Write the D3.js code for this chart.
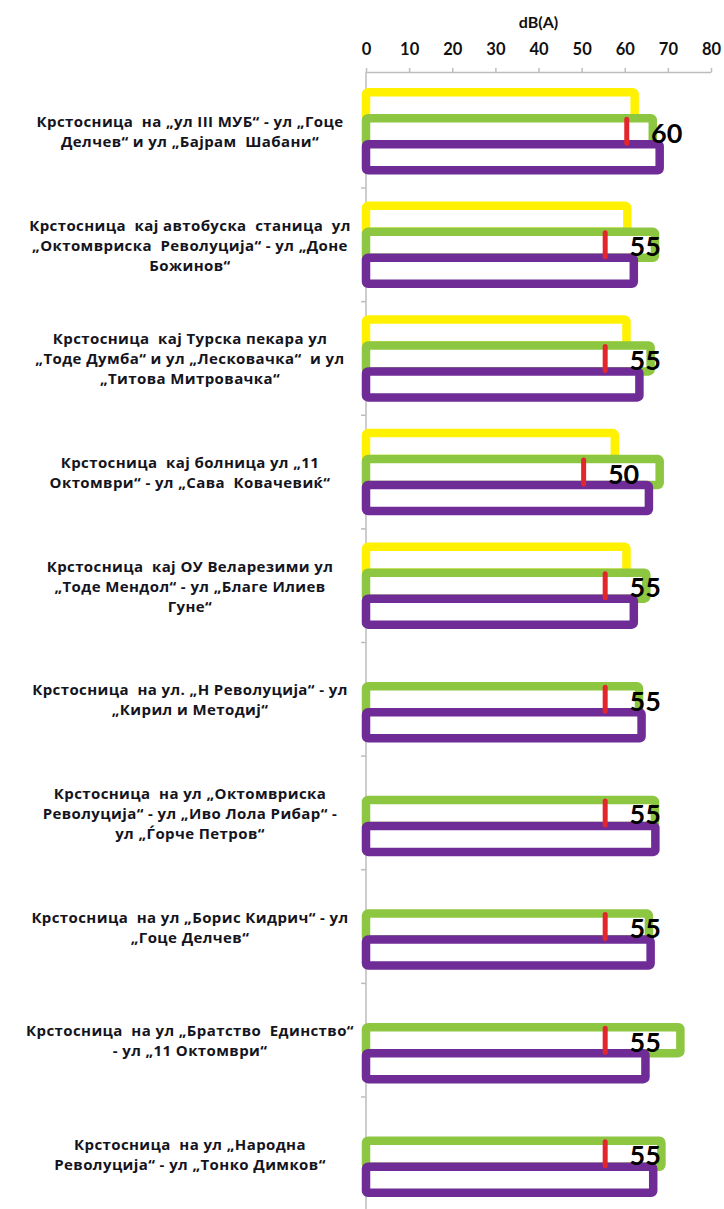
<!DOCTYPE html>
<html>
<head>
<meta charset="utf-8">
<script src="https://cdn.jsdelivr.net/npm/d3@7"></script>
<style>
  html, body { margin: 0; padding: 0; background: #fff; }
  svg { display: block; }
  .cat { white-space: pre; }
</style>
</head>
<body>
<svg id="chart" width="724" height="1209"></svg>
<script>
// ---------------- DATA ----------------
const categories = [
  ["Крстосница  на „ул III МУБ“ - ул „Гоце", "Делчев“ и ул „Бајрам  Шабани“"],
  ["Крстосница  кај автобуска  станица  ул", "„Октомвриска  Револуција“ - ул „Доне", "Божинов“"],
  ["Крстосница  кај Турска пекара ул", "„Тоде Думба“ и ул „Лесковачка“  и ул", "„Титова Митровачка“"],
  ["Крстосница  кај болница ул „11", "Октомври“ - ул „Сава  Ковачевиќ“"],
  ["Крстосница  кај ОУ Веларезими ул", "„Тоде Мендол“ - ул „Благе Илиев", "Гуне“"],
  ["Крстосница  на ул. „Н Револуција“ - ул", "„Кирил и Методиј“"],
  ["Крстосница  на ул „Октомвриска", "Револуција“ - ул „Иво Лола Рибар“ -", "ул „Ѓорче Петров“"],
  ["Крстосница  на ул „Борис Кидрич“ - ул", "„Гоце Делчев“"],
  ["Крстосница  на ул „Братство  Единство“", "- ул „11 Октомври“"],
  ["Крстосница  на ул „Народна", "Револуција“ - ул „Тонко Димков“"]
];
const seriesNames = ["Серија 1", "Серија 2", "Серија 3"];
const yellowValues = [62.3, 60.6, 60.4, 57.7, 60.4, null, null, null, null, null];
const greenValues  = [66.5, 67.0, 66.0, 68.1, 65.0, 63.3, 67.0, 65.6, 72.9, 68.5];
const purpleValues = [68.1, 62.1, 63.4, 65.6, 62.1, 63.9, 67.1, 66.0, 64.8, 66.6];
const limitValues  = [60, 55, 55, 50, 55, 55, 55, 55, 55, 55];
const xTicks = [0, 10, 20, 30, 40, 50, 60, 70, 80];
const axisTitle = "dB(A)";

// ---------------- LAYOUT ----------------
const seriesColors = ["#FFF100", "#8DC640", "#6F2C96"];
const seriesValues = [yellowValues, greenValues, purpleValues];
const svg = d3.select("#chart");

const x = d3.scaleLinear().domain([0, 80]).range([366, 711]);
const y0 = d3.scaleBand().domain(d3.range(categories.length)).range([74.4, 1210.6]).padding(0);
const step = y0.step();
const y1 = d3.scaleBand().domain(d3.range(seriesNames.length))
  .range([step / 2 - 39, step / 2 + 39]).padding(0);

const axisColor = "#BDBDBD";

// Vertical (category) axis line & boundary ticks
const vAxis = svg.append("g");
vAxis.append("line")
  .attr("x1", x(0)).attr("x2", x(0))
  .attr("y1", 72).attr("y2", 1209)
  .attr("stroke", axisColor).attr("stroke-width", 1.5);
vAxis.selectAll("line.bt")
  .data(d3.range(1, categories.length))
  .join("line").attr("class", "bt")
  .attr("x1", x(0) - 5).attr("x2", x(0))
  .attr("y1", d => y0(d)).attr("y2", d => y0(d))
  .attr("stroke", axisColor).attr("stroke-width", 1.5);

// Top value axis
const xAxis = svg.append("g")
  .attr("transform", "translate(0,72)")
  .call(d3.axisTop(x).tickValues(xTicks).tickSize(4).tickSizeOuter(0).tickPadding(13));
xAxis.select(".domain").attr("stroke", axisColor).attr("stroke-width", 1.5);
xAxis.selectAll(".tick line").attr("stroke", axisColor).attr("stroke-width", 1.5);
xAxis.selectAll(".tick text")
  .attr("fill", "#111").attr("font-family", "Lato, sans-serif")
  .attr("font-weight", "bold").attr("font-size", 16.5);

svg.append("text")
  .attr("x", (x(0) + x(80)) / 2).attr("y", 21)
  .attr("text-anchor", "middle").attr("dominant-baseline", "central")
  .attr("font-family", "Lato, sans-serif").attr("font-weight", "bold")
  .attr("font-size", 16).attr("fill", "#111")
  .text(axisTitle);

// Bars
const groups = svg.append("g").selectAll("g.grp")
  .data(categories.map((c, i) => i))
  .join("g").attr("class", "grp")
  .attr("transform", i => `translate(0,${y0(i)})`);

groups.each(function (i) {
  const g = d3.select(this);
  seriesValues.forEach((vals, s) => {
    const v = vals[i];
    if (v == null) return;
    g.append("rect")
      .attr("x", x(0))
      .attr("y", y1(s))
      .attr("width", x(v) - x(0))
      .attr("height", y1.bandwidth())
      .attr("rx", 2)
      .attr("fill", "#fff")
      .attr("stroke", seriesColors[s])
      .attr("stroke-width", 8.5)
      .attr("stroke-linejoin", "round");
  });
  // limit marker (red) across the green bar
  g.append("line")
    .attr("x1", x(limitValues[i]) + 2).attr("x2", x(limitValues[i]) + 2)
    .attr("y1", y1(1) + 1).attr("y2", y1(1) + y1.bandwidth() - 1)
    .attr("stroke", "#E3262C").attr("stroke-width", 5)
    .attr("stroke-linecap", "round");
  g.append("text")
    .attr("x", x(limitValues[i]) + 42)
    .attr("y", y1(1) + y1.bandwidth() / 2 + 1)
    .attr("text-anchor", "middle").attr("dominant-baseline", "central")
    .attr("font-family", "Lato, sans-serif").attr("font-weight", "bold")
    .attr("font-size", 27).attr("fill", "#000")
    .text(limitValues[i]);
});

// Category labels
const labels = svg.append("g").selectAll("text.cat")
  .data(categories)
  .join("text").attr("class", "cat")
  .attr("text-anchor", "middle")
  .attr("font-family", "'Open Sans', sans-serif").attr("font-weight", "bold")
  .attr("font-size", 15).attr("letter-spacing", 0.4)
  .attr("fill", "#141420");
labels.each(function (lines, i) {
  const t = d3.select(this);
  const cy = y0(i) + step / 2;
  const lh = 20;
  lines.forEach((ln, k) => {
    t.append("tspan")
      .attr("x", 190)
      .attr("y", cy - (lines.length - 1) * lh / 2 + k * lh)
      .attr("dominant-baseline", "central")
      .text(ln);
  });
});
</script>
</body>
</html>
